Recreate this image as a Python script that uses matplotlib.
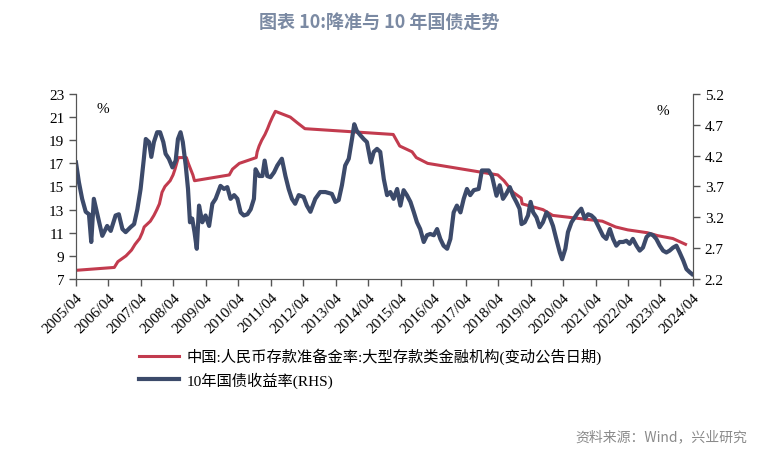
import matplotlib.pyplot as plt

# 大型存款类金融机构存款准备金率 (变动公告日期), 左轴
rrr_dates = [2005.25, 2006.43, 2006.54, 2006.79, 2006.96, 2007.07, 2007.21, 2007.29, 2007.35,
             2007.54, 2007.65, 2007.74, 2007.82, 2007.90, 2007.99, 2008.15, 2008.24, 2008.30,
             2008.40, 2008.65, 2008.71, 2008.85, 2008.90, 2009.97, 2010.07, 2010.28, 2010.80,
             2010.83, 2010.89, 2010.97, 2011.07, 2011.15, 2011.22, 2011.30, 2011.39, 2011.85,
             2012.07, 2012.30, 2015.02, 2015.22, 2015.60, 2015.73, 2016.08, 2018.24, 2018.43,
             2018.71, 2018.96, 2018.99, 2019.63, 2019.93, 2021.46, 2021.87, 2022.24, 2022.85,
             2023.16, 2023.63, 2024.02]
rrr = [7.75, 8.0, 8.5, 9.0, 9.5, 10.0, 10.5, 11.0, 11.5,
       12.0, 12.5, 13.0, 13.5, 14.5, 15.0, 15.5, 16.0, 16.5,
       17.5, 17.5, 17.0, 16.0, 15.5, 16.0, 16.5, 17.0, 17.5,
       18.0, 18.5, 19.0, 19.5, 20.0, 20.5, 21.0, 21.5, 21.0,
       20.5, 20.0, 19.5, 18.5, 18.0, 17.5, 17.0, 16.0, 15.5,
       14.5, 14.0, 13.5, 13.0, 12.5, 12.0, 11.5, 11.25, 11.0,
       10.75, 10.5, 10.0]

# 10年国债收益率, 右轴
bond_dates = [2005.25, 2005.34, 2005.44, 2005.55, 2005.65, 2005.72, 2005.80, 2005.89, 2005.96,
              2006.06, 2006.21, 2006.32, 2006.47, 2006.57, 2006.68, 2006.78, 2006.93, 2007.04,
              2007.14, 2007.24, 2007.34, 2007.40, 2007.50, 2007.57, 2007.65, 2007.75, 2007.84,
              2007.94, 2008.01, 2008.11, 2008.22, 2008.32, 2008.39, 2008.47, 2008.54, 2008.63,
              2008.70, 2008.76, 2008.83, 2008.90, 2008.97, 2009.04, 2009.14, 2009.24, 2009.35,
              2009.45, 2009.55, 2009.70, 2009.81, 2009.91, 2010.01, 2010.12, 2010.22, 2010.32,
              2010.42, 2010.53, 2010.63, 2010.73, 2010.78, 2010.89, 2010.99, 2011.06, 2011.14,
              2011.24, 2011.35, 2011.45, 2011.59, 2011.70, 2011.80, 2011.90, 2012.00, 2012.11,
              2012.26, 2012.36, 2012.47, 2012.62, 2012.77, 2012.93, 2013.13, 2013.24, 2013.34,
              2013.44, 2013.54, 2013.65, 2013.75, 2013.82, 2013.90, 2014.01, 2014.11, 2014.21,
              2014.33, 2014.42, 2014.52, 2014.62, 2014.73, 2014.83, 2014.93, 2015.03, 2015.14,
              2015.24, 2015.34, 2015.44, 2015.55, 2015.65, 2015.75, 2015.85, 2015.96, 2016.06,
              2016.16, 2016.27, 2016.37, 2016.47, 2016.57, 2016.68, 2016.78, 2016.88, 2016.98,
              2017.09, 2017.19, 2017.29, 2017.39, 2017.50, 2017.65, 2017.75, 2017.86, 2017.96,
              2018.06, 2018.20, 2018.30, 2018.40, 2018.50, 2018.61, 2018.71, 2018.81, 2018.91,
              2018.97, 2019.07, 2019.17, 2019.25, 2019.33, 2019.43, 2019.53, 2019.63, 2019.74,
              2019.84, 2019.94, 2020.04, 2020.15, 2020.22, 2020.32, 2020.40, 2020.51, 2020.61,
              2020.71, 2020.81, 2020.92, 2021.02, 2021.12, 2021.22, 2021.33, 2021.48, 2021.58,
              2021.69, 2021.79, 2021.89, 2021.99, 2022.10, 2022.20, 2022.30, 2022.40, 2022.51,
              2022.61, 2022.71, 2022.82, 2022.92, 2023.02, 2023.12, 2023.23, 2023.33, 2023.43,
              2023.53, 2023.64, 2023.74, 2023.84, 2023.95, 2024.05, 2024.15, 2024.22]
bond = [4.09, 3.77, 3.50, 3.29, 3.25, 2.80, 3.50, 3.29, 3.12,
        2.90, 3.06, 2.98, 3.23, 3.25, 3.01, 2.96, 3.04, 3.09,
        3.33, 3.66, 4.15, 4.47, 4.42, 4.18, 4.42, 4.58, 4.58,
        4.42, 4.23, 4.15, 4.01, 4.12, 4.47, 4.58, 4.42, 4.04,
        3.66, 3.12, 3.18, 2.96, 2.69, 3.39, 3.12, 3.23, 3.06,
        3.42, 3.50, 3.71, 3.66, 3.69, 3.50, 3.56, 3.50, 3.28,
        3.23, 3.25, 3.33, 3.50, 3.98, 3.87, 3.87, 4.12, 3.87,
        3.85, 3.93, 4.04, 4.15, 3.87, 3.66, 3.50, 3.42, 3.56,
        3.53, 3.39, 3.29, 3.50, 3.61, 3.61, 3.58, 3.45, 3.48,
        3.72, 4.04, 4.15, 4.47, 4.71, 4.60, 4.53, 4.47, 4.42,
        4.09, 4.26, 4.31, 4.26, 3.82, 3.56, 3.61, 3.50, 3.66,
        3.39, 3.64, 3.56, 3.45, 3.29, 3.12, 3.01, 2.80, 2.91,
        2.93, 2.91, 3.01, 2.85, 2.74, 2.69, 2.85, 3.28, 3.39,
        3.28, 3.50, 3.66, 3.56, 3.64, 3.66, 3.96, 3.96, 3.96,
        3.87, 3.55, 3.72, 3.50, 3.58, 3.69, 3.55, 3.45, 3.34,
        3.09, 3.12, 3.23, 3.45, 3.28, 3.20, 3.04, 3.12, 3.28,
        3.20, 3.06, 2.85, 2.63, 2.52, 2.69, 2.96, 3.12, 3.20,
        3.28, 3.34, 3.18, 3.25, 3.23, 3.18, 3.06, 2.90, 2.85,
        3.01, 2.85, 2.74, 2.80, 2.80, 2.82, 2.77, 2.85, 2.74,
        2.66, 2.71, 2.88, 2.93, 2.91, 2.85, 2.74, 2.66, 2.63,
        2.66, 2.71, 2.74, 2.63, 2.50, 2.36, 2.31, 2.28]

years = list(range(2005, 2025))
tick_pos = [y + 0.25 for y in years]
tick_labels = [f"{y}/04" for y in years]

left_ticks = list(range(7, 24, 2))
right_ticks = [2.2, 2.7, 3.2, 3.7, 4.2, 4.7, 5.2]

red = '#c23b4e'
blue = '#3c4a6a'
axis_col = '#555555'
serif = ['Liberation Serif', 'Noto Sans CJK SC']

fig = plt.figure(figsize=(7.59, 4.60), dpi=100)
ax = fig.add_axes([0.1001, 0.3913, 0.8129, 0.4022])
ax2 = ax.twinx()

l1, = ax.plot(rrr_dates, rrr, color=red, lw=2.2, solid_joinstyle='round')
l2, = ax2.plot(bond_dates, bond, color=blue, lw=3.0, solid_joinstyle='round')

ax.set_xlim(2005.25, 2024.25)
ax.set_ylim(7, 23)
ax2.set_ylim(2.2, 5.2)
ax.set_yticks(left_ticks)
ax2.set_yticks(right_ticks)
ax2.set_yticklabels([f"{v:.1f}" for v in right_ticks])
ax.set_xticks(tick_pos)
ax.set_xticklabels(tick_labels, rotation=45, ha='right', rotation_mode='anchor')

for a in (ax, ax2):
    a.spines['top'].set_visible(False)
    for s in ('left', 'right', 'bottom'):
        a.spines[s].set_color(axis_col)
    a.tick_params(colors='black', length=5, width=1, labelsize=11)
    for lab in a.get_xticklabels() + a.get_yticklabels():
        lab.set_family(serif)
ax.tick_params(axis='y', color=axis_col)
ax2.tick_params(axis='y', color=axis_col)
ax.tick_params(axis='x', color=axis_col, pad=3)

ax.text(0.033, 0.90, '%', transform=ax.transAxes, fontsize=11, family=serif)
ax2.text(0.962, 0.89, '%', transform=ax2.transAxes, fontsize=11, family=serif, ha='right')

fig.text(0.5, 0.952, '图表 10:降准与 10 年国债走势', ha='center', va='center',
         fontsize=13, fontweight='bold', color='#7b8aa3', family=['Noto Sans CJK SC', 'DejaVu Sans'])

leg = fig.legend([l1, l2], ['中国:人民币存款准备金率:大型存款类金融机构(变动公告日期)', '10年国债收益率(RHS)'],
                 loc='upper left', bbox_to_anchor=(0.175, 0.255), frameon=False,
                 prop={'family': serif, 'size': 11}, handlelength=2.6, handletextpad=0.5,
                 labelspacing=0.45, borderaxespad=0)

fig.text(0.985, 0.05, '资料来源：Wind，兴业研究', ha='right', va='center', fontsize=10,
         color='#8a8a8a', family=['Noto Sans CJK SC', 'DejaVu Sans'])

fig.savefig('out.png', dpi=100)
